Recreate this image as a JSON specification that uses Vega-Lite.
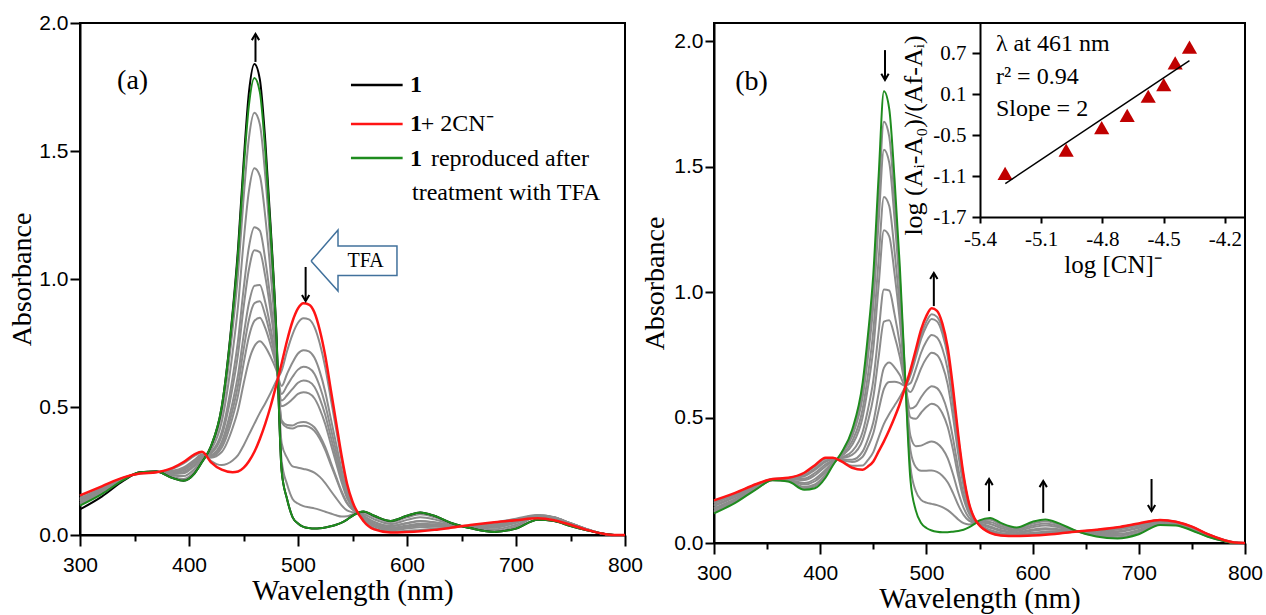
{
"$schema":"https://vega.github.io/schema/vega-lite/v6.json",
"background":"white",
"padding":{"left":7,"top":11,"right":0,"bottom":0},
"config":{
 "view":{"stroke":"black","strokeWidth":2},
 "axis":{"domainColor":"black","domainWidth":2,"tickColor":"black","tickWidth":2,"labelColor":"black","titleColor":"black","grid":false,"labelFont":"Liberation Sans","labelFontSize":21,"titleFont":"Liberation Serif","titleFontSize":26,"titleFontWeight":"normal","tickSize":10,"labelPadding":2,"labelFlush":false,"labelOverlap":false}
},
"datasets":{
"a":[
{"w":300,"k":0.1,"g":0.115,"r":0.155,"a1":0.119,"a2":0.125,"a3":0.131,"a4":0.133,"a5":0.137,"a6":0.139,"a7":0.141,"a8":0.144,"a9":0.152},
{"w":320,"k":0.15,"g":0.16,"r":0.19,"a1":0.163,"a2":0.167,"a3":0.172,"a4":0.174,"a5":0.177,"a6":0.178,"a7":0.18,"a8":0.182,"a9":0.188},
{"w":340,"k":0.212,"g":0.215,"r":0.225,"a1":0.216,"a2":0.217,"a3":0.219,"a4":0.22,"a5":0.221,"a6":0.221,"a7":0.222,"a8":0.222,"a9":0.224},
{"w":355,"k":0.245,"g":0.245,"r":0.24,"a1":0.245,"a2":0.244,"a3":0.243,"a4":0.243,"a5":0.242,"a6":0.242,"a7":0.242,"a8":0.241,"a9":0.24},
{"w":370,"k":0.248,"g":0.248,"r":0.245,"a1":0.248,"a2":0.247,"a3":0.247,"a4":0.247,"a5":0.246,"a6":0.246,"a7":0.246,"a8":0.246,"a9":0.245},
{"w":385,"k":0.222,"g":0.222,"r":0.262,"a1":0.226,"a2":0.232,"a3":0.238,"a4":0.24,"a5":0.244,"a6":0.246,"a7":0.248,"a8":0.251,"a9":0.259},
{"w":395,"k":0.212,"g":0.212,"r":0.285,"a1":0.219,"a2":0.23,"a3":0.241,"a4":0.246,"a5":0.253,"a6":0.256,"a7":0.26,"a8":0.264,"a9":0.28},
{"w":405,"k":0.24,"g":0.24,"r":0.315,"a1":0.247,"a2":0.258,"a3":0.27,"a4":0.275,"a5":0.282,"a6":0.285,"a7":0.289,"a8":0.294,"a9":0.309},
{"w":412,"k":0.285,"g":0.285,"r":0.325,"a1":0.289,"a2":0.295,"a3":0.301,"a4":0.303,"a5":0.307,"a6":0.309,"a7":0.311,"a8":0.314,"a9":0.322},
{"w":420,"k":0.345,"g":0.345,"r":0.285,"a1":0.339,"a2":0.331,"a3":0.321,"a4":0.317,"a5":0.312,"a6":0.309,"a7":0.306,"a8":0.302,"a9":0.29},
{"w":430,"k":0.5,"g":0.5,"r":0.255,"a1":0.477,"a2":0.441,"a3":0.402,"a4":0.387,"a5":0.364,"a6":0.352,"a7":0.341,"a8":0.324,"a9":0.273},
{"w":440,"k":0.87,"g":0.86,"r":0.245,"a1":0.803,"a2":0.712,"a3":0.615,"a4":0.577,"a5":0.518,"a6":0.489,"a7":0.46,"a8":0.418,"a9":0.291},
{"w":445,"k":1.12,"g":1.1,"r":0.248,"a1":1.021,"a2":0.895,"a3":0.76,"a4":0.707,"a5":0.626,"a6":0.586,"a7":0.546,"a8":0.488,"a9":0.312},
{"w":450,"k":1.45,"g":1.42,"r":0.262,"a1":1.312,"a2":1.141,"a3":0.958,"a4":0.886,"a5":0.776,"a6":0.722,"a7":0.667,"a8":0.589,"a9":0.349},
{"w":455,"k":1.73,"g":1.68,"r":0.288,"a1":1.551,"a2":1.345,"a3":1.125,"a4":1.038,"a5":0.906,"a6":0.841,"a7":0.775,"a8":0.681,"a9":0.392},
{"w":460,"k":1.84,"g":1.785,"r":0.325,"a1":1.649,"a2":1.433,"a3":1.202,"a4":1.112,"a5":0.973,"a6":0.905,"a7":0.836,"a8":0.737,"a9":0.435},
{"w":465,"k":1.78,"g":1.73,"r":0.375,"a1":1.604,"a2":1.403,"a3":1.189,"a4":1.105,"a5":0.977,"a6":0.913,"a7":0.849,"a8":0.757,"a9":0.477},
{"w":470,"k":1.54,"g":1.5,"r":0.435,"a1":1.401,"a2":1.243,"a3":1.075,"a4":1.009,"a5":0.908,"a6":0.858,"a7":0.808,"a8":0.735,"a9":0.515},
{"w":475,"k":1.2,"g":1.18,"r":0.505,"a1":1.117,"a2":1.017,"a3":0.911,"a4":0.869,"a5":0.805,"a6":0.773,"a7":0.741,"a8":0.695,"a9":0.556},
{"w":480,"k":0.81,"g":0.8,"r":0.585,"a1":0.78,"a2":0.748,"a3":0.714,"a4":0.701,"a5":0.68,"a6":0.67,"a7":0.66,"a8":0.646,"a9":0.601},
{"w":485,"k":0.25,"g":0.25,"r":0.67,"a1":0.289,"a2":0.359,"a3":0.44,"a4":0.447,"a5":0.503,"a6":0.525,"a7":0.551,"a8":0.582,"a9":0.642},
{"w":490,"k":0.14,"g":0.14,"r":0.76,"a1":0.198,"a2":0.301,"a3":0.42,"a4":0.43,"a5":0.513,"a6":0.546,"a7":0.584,"a8":0.63,"a9":0.719},
{"w":495,"k":0.07,"g":0.07,"r":0.835,"a1":0.141,"a2":0.268,"a3":0.416,"a4":0.428,"a5":0.531,"a6":0.571,"a7":0.618,"a8":0.674,"a9":0.784},
{"w":500,"k":0.045,"g":0.045,"r":0.885,"a1":0.123,"a2":0.263,"a3":0.425,"a4":0.438,"a5":0.551,"a6":0.595,"a7":0.646,"a8":0.709,"a9":0.829},
{"w":505,"k":0.032,"g":0.032,"r":0.905,"a1":0.113,"a2":0.258,"a3":0.427,"a4":0.441,"a5":0.558,"a6":0.604,"a7":0.657,"a8":0.722,"a9":0.847},
{"w":510,"k":0.027,"g":0.027,"r":0.9,"a1":0.108,"a2":0.253,"a3":0.422,"a4":0.436,"a5":0.553,"a6":0.599,"a7":0.652,"a8":0.717,"a9":0.842},
{"w":515,"k":0.025,"g":0.025,"r":0.87,"a1":0.104,"a2":0.244,"a3":0.407,"a4":0.421,"a5":0.534,"a6":0.579,"a7":0.63,"a8":0.693,"a9":0.813},
{"w":520,"k":0.026,"g":0.026,"r":0.8,"a1":0.098,"a2":0.227,"a3":0.376,"a4":0.388,"a5":0.492,"a6":0.533,"a7":0.58,"a8":0.638,"a9":0.748},
{"w":525,"k":0.029,"g":0.029,"r":0.7,"a1":0.091,"a2":0.203,"a3":0.332,"a4":0.343,"a5":0.433,"a6":0.469,"a7":0.509,"a8":0.559,"a9":0.655},
{"w":530,"k":0.034,"g":0.034,"r":0.57,"a1":0.084,"a2":0.173,"a3":0.276,"a4":0.285,"a5":0.357,"a6":0.385,"a7":0.418,"a8":0.457,"a9":0.534},
{"w":535,"k":0.04,"g":0.04,"r":0.44,"a1":0.077,"a2":0.144,"a3":0.221,"a4":0.227,"a5":0.281,"a6":0.302,"a7":0.326,"a8":0.356,"a9":0.413},
{"w":540,"k":0.048,"g":0.048,"r":0.31,"a1":0.072,"a2":0.116,"a3":0.166,"a4":0.171,"a5":0.206,"a6":0.22,"a7":0.236,"a8":0.255,"a9":0.292},
{"w":545,"k":0.06,"g":0.06,"r":0.2,"a1":0.073,"a2":0.096,"a3":0.123,"a4":0.126,"a5":0.144,"a6":0.152,"a7":0.16,"a8":0.171,"a9":0.191},
{"w":550,"k":0.075,"g":0.075,"r":0.13,"a1":0.08,"a2":0.089,"a3":0.1,"a4":0.101,"a5":0.108,"a6":0.111,"a7":0.114,"a8":0.119,"a9":0.126},
{"w":560,"k":0.092,"g":0.092,"r":0.055,"a1":0.089,"a2":0.082,"a3":0.075,"a4":0.075,"a5":0.07,"a6":0.068,"a7":0.066,"a8":0.063,"a9":0.058},
{"w":570,"k":0.075,"g":0.075,"r":0.022,"a1":0.07,"a2":0.061,"a3":0.051,"a4":0.05,"a5":0.043,"a6":0.04,"a7":0.037,"a8":0.033,"a9":0.026},
{"w":585,"k":0.055,"g":0.055,"r":0.01,"a1":0.051,"a2":0.043,"a3":0.035,"a4":0.034,"a5":0.028,"a6":0.026,"a7":0.023,"a8":0.019,"a9":0.013},
{"w":600,"k":0.075,"g":0.075,"r":0.012,"a1":0.069,"a2":0.059,"a3":0.047,"a4":0.046,"a5":0.037,"a6":0.034,"a7":0.03,"a8":0.025,"a9":0.016},
{"w":612,"k":0.088,"g":0.088,"r":0.015,"a1":0.081,"a2":0.069,"a3":0.055,"a4":0.054,"a5":0.044,"a6":0.04,"a7":0.036,"a8":0.03,"a9":0.02},
{"w":625,"k":0.075,"g":0.075,"r":0.02,"a1":0.07,"a2":0.061,"a3":0.05,"a4":0.049,"a5":0.042,"a6":0.039,"a7":0.036,"a8":0.032,"a9":0.024},
{"w":640,"k":0.048,"g":0.048,"r":0.028,"a1":0.046,"a2":0.043,"a3":0.039,"a4":0.039,"a5":0.036,"a6":0.035,"a7":0.034,"a8":0.032,"a9":0.029},
{"w":660,"k":0.025,"g":0.025,"r":0.04,"a1":0.026,"a2":0.029,"a3":0.032,"a4":0.032,"a5":0.034,"a6":0.035,"a7":0.036,"a8":0.037,"a9":0.039},
{"w":680,"k":0.012,"g":0.012,"r":0.05,"a1":0.016,"a2":0.022,"a3":0.029,"a4":0.03,"a5":0.035,"a6":0.037,"a7":0.039,"a8":0.042,"a9":0.048},
{"w":700,"k":0.025,"g":0.025,"r":0.058,"a1":0.033,"a2":0.04,"a3":0.048,"a4":0.05,"a5":0.054,"a6":0.056,"a7":0.058,"a8":0.06,"a9":0.064},
{"w":720,"k":0.06,"g":0.06,"r":0.065,"a1":0.072,"a2":0.073,"a3":0.074,"a4":0.075,"a5":0.075,"a6":0.076,"a7":0.076,"a8":0.077,"a9":0.078},
{"w":735,"k":0.055,"g":0.055,"r":0.058,"a1":0.066,"a2":0.066,"a3":0.067,"a4":0.067,"a5":0.068,"a6":0.068,"a7":0.068,"a8":0.069,"a9":0.069},
{"w":750,"k":0.035,"g":0.035,"r":0.04,"a1":0.043,"a2":0.044,"a3":0.044,"a4":0.045,"a5":0.045,"a6":0.045,"a7":0.046,"a8":0.046,"a9":0.046},
{"w":765,"k":0.018,"g":0.018,"r":0.02,"a1":0.021,"a2":0.021,"a3":0.022,"a4":0.022,"a5":0.022,"a6":0.022,"a7":0.023,"a8":0.023,"a9":0.023},
{"w":780,"k":0.005,"g":0.005,"r":0.005,"a1":0.005,"a2":0.005,"a3":0.005,"a4":0.005,"a5":0.005,"a6":0.005,"a7":0.005,"a8":0.005,"a9":0.005},
{"w":790,"k":0,"g":0,"r":0,"a1":0,"a2":0,"a3":0,"a4":0,"a5":0,"a6":0,"a7":0,"a8":0,"a9":0},
{"w":800,"k":0,"g":0,"r":0,"a1":0,"a2":0,"a3":0,"a4":0,"a5":0,"a6":0,"a7":0,"a8":0,"a9":0}
],
"b":[
{"w":300,"g":0.118,"r":0.17,"b1":0.123,"b2":0.127,"b3":0.134,"b4":0.139,"b5":0.147,"b6":0.152,"b7":0.159,"b8":0.162,"b9":0.167},
{"w":320,"g":0.16,"r":0.2,"b1":0.164,"b2":0.167,"b3":0.172,"b4":0.176,"b5":0.183,"b6":0.186,"b7":0.192,"b8":0.194,"b9":0.198},
{"w":340,"g":0.215,"r":0.235,"b1":0.217,"b2":0.218,"b3":0.221,"b4":0.223,"b5":0.226,"b6":0.228,"b7":0.231,"b8":0.232,"b9":0.234},
{"w":355,"g":0.25,"r":0.255,"b1":0.25,"b2":0.251,"b3":0.252,"b4":0.252,"b5":0.253,"b6":0.253,"b7":0.254,"b8":0.254,"b9":0.255},
{"w":370,"g":0.245,"r":0.26,"b1":0.246,"b2":0.248,"b3":0.25,"b4":0.251,"b5":0.254,"b6":0.255,"b7":0.257,"b8":0.258,"b9":0.259},
{"w":385,"g":0.212,"r":0.28,"b1":0.218,"b2":0.223,"b3":0.233,"b4":0.239,"b5":0.251,"b6":0.257,"b7":0.266,"b8":0.27,"b9":0.277},
{"w":395,"g":0.218,"r":0.31,"b1":0.226,"b2":0.233,"b3":0.246,"b4":0.255,"b5":0.27,"b6":0.279,"b7":0.291,"b8":0.296,"b9":0.305},
{"w":405,"g":0.26,"r":0.34,"b1":0.267,"b2":0.273,"b3":0.284,"b4":0.292,"b5":0.305,"b6":0.313,"b7":0.323,"b8":0.328,"b9":0.336},
{"w":412,"g":0.31,"r":0.34,"b1":0.313,"b2":0.315,"b3":0.319,"b4":0.322,"b5":0.327,"b6":0.33,"b7":0.334,"b8":0.336,"b9":0.339},
{"w":420,"g":0.36,"r":0.325,"b1":0.357,"b2":0.354,"b3":0.349,"b4":0.346,"b5":0.34,"b6":0.337,"b7":0.332,"b8":0.33,"b9":0.327},
{"w":430,"g":0.45,"r":0.3,"b1":0.437,"b2":0.425,"b3":0.405,"b4":0.39,"b5":0.365,"b6":0.351,"b7":0.332,"b8":0.323,"b9":0.308},
{"w":440,"g":0.64,"r":0.292,"b1":0.61,"b2":0.582,"b3":0.535,"b4":0.502,"b5":0.443,"b6":0.411,"b7":0.365,"b8":0.344,"b9":0.309},
{"w":445,"g":0.83,"r":0.305,"b1":0.784,"b2":0.742,"b3":0.671,"b4":0.622,"b5":0.533,"b6":0.485,"b7":0.415,"b8":0.384,"b9":0.331},
{"w":450,"g":1.07,"r":0.325,"b1":1.005,"b2":0.946,"b3":0.845,"b4":0.774,"b5":0.648,"b6":0.58,"b7":0.481,"b8":0.437,"b9":0.362},
{"w":455,"g":1.46,"r":0.365,"b1":1.365,"b2":1.277,"b3":1.129,"b4":1.025,"b5":0.84,"b6":0.74,"b7":0.595,"b8":0.529,"b9":0.42},
{"w":460,"g":1.8,"r":0.405,"b1":1.679,"b2":1.567,"b3":1.379,"b4":1.246,"b5":1.01,"b6":0.882,"b7":0.698,"b8":0.614,"b9":0.475},
{"w":465,"g":1.73,"r":0.45,"b1":1.619,"b2":1.516,"b3":1.343,"b4":1.222,"b5":1.006,"b6":0.888,"b7":0.719,"b8":0.642,"b9":0.514},
{"w":470,"g":1.45,"r":0.5,"b1":1.367,"b2":1.291,"b3":1.163,"b4":1.073,"b5":0.912,"b6":0.825,"b7":0.7,"b8":0.643,"b9":0.548},
{"w":475,"g":1.1,"r":0.555,"b1":1.053,"b2":1.009,"b3":0.935,"b4":0.884,"b5":0.792,"b6":0.741,"b7":0.669,"b8":0.637,"b9":0.582},
{"w":480,"g":0.66,"r":0.62,"b1":0.657,"b2":0.653,"b3":0.648,"b4":0.644,"b5":0.637,"b6":0.634,"b7":0.628,"b8":0.626,"b9":0.622},
{"w":485,"g":0.25,"r":0.69,"b1":0.303,"b2":0.369,"b3":0.426,"b4":0.501,"b5":0.536,"b6":0.602,"b7":0.637,"b8":0.669,"b9":0.678},
{"w":490,"g":0.13,"r":0.77,"b1":0.207,"b2":0.303,"b3":0.386,"b4":0.495,"b5":0.546,"b6":0.642,"b7":0.693,"b8":0.739,"b9":0.753},
{"w":495,"g":0.08,"r":0.85,"b1":0.172,"b2":0.288,"b3":0.388,"b4":0.519,"b5":0.581,"b6":0.696,"b7":0.758,"b8":0.813,"b9":0.829},
{"w":500,"g":0.06,"r":0.905,"b1":0.161,"b2":0.288,"b3":0.398,"b4":0.542,"b5":0.609,"b6":0.736,"b7":0.804,"b8":0.864,"b9":0.882},
{"w":505,"g":0.05,"r":0.935,"b1":0.156,"b2":0.289,"b3":0.404,"b4":0.555,"b5":0.625,"b6":0.758,"b7":0.829,"b8":0.893,"b9":0.911},
{"w":510,"g":0.045,"r":0.925,"b1":0.151,"b2":0.283,"b3":0.397,"b4":0.547,"b5":0.617,"b6":0.749,"b7":0.819,"b8":0.883,"b9":0.901},
{"w":515,"g":0.043,"r":0.875,"b1":0.143,"b2":0.268,"b3":0.376,"b4":0.517,"b5":0.584,"b6":0.709,"b7":0.775,"b8":0.835,"b9":0.853},
{"w":520,"g":0.043,"r":0.78,"b1":0.131,"b2":0.242,"b3":0.338,"b4":0.463,"b5":0.522,"b6":0.633,"b7":0.692,"b8":0.745,"b9":0.76},
{"w":525,"g":0.045,"r":0.62,"b1":0.114,"b2":0.2,"b3":0.275,"b4":0.373,"b5":0.419,"b6":0.505,"b7":0.551,"b8":0.592,"b9":0.605},
{"w":530,"g":0.048,"r":0.43,"b1":0.094,"b2":0.151,"b3":0.201,"b4":0.266,"b5":0.296,"b6":0.354,"b7":0.384,"b8":0.412,"b9":0.42},
{"w":535,"g":0.053,"r":0.27,"b1":0.079,"b2":0.112,"b3":0.14,"b4":0.177,"b5":0.194,"b6":0.227,"b7":0.244,"b8":0.26,"b9":0.264},
{"w":540,"g":0.062,"r":0.16,"b1":0.074,"b2":0.089,"b3":0.101,"b4":0.118,"b5":0.126,"b6":0.14,"b7":0.148,"b8":0.155,"b9":0.157},
{"w":545,"g":0.075,"r":0.1,"b1":0.078,"b2":0.082,"b3":0.085,"b4":0.089,"b5":0.091,"b6":0.095,"b7":0.097,"b8":0.099,"b9":0.099},
{"w":550,"g":0.09,"r":0.07,"b1":0.088,"b2":0.085,"b3":0.082,"b4":0.079,"b5":0.077,"b6":0.074,"b7":0.072,"b8":0.071,"b9":0.071},
{"w":560,"g":0.1,"r":0.04,"b1":0.093,"b2":0.084,"b3":0.076,"b4":0.066,"b5":0.061,"b6":0.052,"b7":0.047,"b8":0.043,"b9":0.042},
{"w":570,"g":0.08,"r":0.03,"b1":0.074,"b2":0.067,"b3":0.06,"b4":0.052,"b5":0.048,"b6":0.04,"b7":0.036,"b8":0.032,"b9":0.031},
{"w":585,"g":0.062,"r":0.028,"b1":0.058,"b2":0.053,"b3":0.048,"b4":0.043,"b5":0.04,"b6":0.035,"b7":0.032,"b8":0.03,"b9":0.029},
{"w":600,"g":0.085,"r":0.03,"b1":0.078,"b2":0.07,"b3":0.063,"b4":0.054,"b5":0.049,"b6":0.041,"b7":0.037,"b8":0.033,"b9":0.032},
{"w":612,"g":0.094,"r":0.033,"b1":0.087,"b2":0.078,"b3":0.07,"b4":0.059,"b5":0.054,"b6":0.045,"b7":0.04,"b8":0.036,"b9":0.035},
{"w":625,"g":0.078,"r":0.038,"b1":0.073,"b2":0.067,"b3":0.062,"b4":0.055,"b5":0.052,"b6":0.046,"b7":0.043,"b8":0.04,"b9":0.039},
{"w":640,"g":0.05,"r":0.045,"b1":0.049,"b2":0.049,"b3":0.048,"b4":0.047,"b5":0.047,"b6":0.046,"b7":0.046,"b8":0.045,"b9":0.045},
{"w":660,"g":0.026,"r":0.053,"b1":0.029,"b2":0.033,"b3":0.037,"b4":0.041,"b5":0.044,"b6":0.048,"b7":0.05,"b8":0.052,"b9":0.052},
{"w":680,"g":0.018,"r":0.063,"b1":0.023,"b2":0.03,"b3":0.036,"b4":0.044,"b5":0.047,"b6":0.054,"b7":0.058,"b8":0.061,"b9":0.062},
{"w":700,"g":0.035,"r":0.078,"b1":0.04,"b2":0.047,"b3":0.052,"b4":0.06,"b5":0.063,"b6":0.069,"b7":0.073,"b8":0.076,"b9":0.077},
{"w":720,"g":0.072,"r":0.092,"b1":0.074,"b2":0.077,"b3":0.08,"b4":0.083,"b5":0.085,"b6":0.088,"b7":0.09,"b8":0.091,"b9":0.092},
{"w":735,"g":0.07,"r":0.085,"b1":0.072,"b2":0.074,"b3":0.076,"b4":0.079,"b5":0.08,"b6":0.082,"b7":0.083,"b8":0.084,"b9":0.085},
{"w":750,"g":0.05,"r":0.065,"b1":0.052,"b2":0.054,"b3":0.056,"b4":0.059,"b5":0.06,"b6":0.062,"b7":0.063,"b8":0.064,"b9":0.065},
{"w":765,"g":0.025,"r":0.035,"b1":0.026,"b2":0.028,"b3":0.029,"b4":0.031,"b5":0.032,"b6":0.033,"b7":0.034,"b8":0.035,"b9":0.035},
{"w":780,"g":0.008,"r":0.012,"b1":0.008,"b2":0.009,"b3":0.01,"b4":0.01,"b5":0.011,"b6":0.011,"b7":0.012,"b8":0.012,"b9":0.012},
{"w":790,"g":0,"r":0.002,"b1":0,"b2":0.001,"b3":0.001,"b4":0.001,"b5":0.001,"b6":0.002,"b7":0.002,"b8":0.002,"b9":0.002},
{"w":800,"g":0,"r":0,"b1":0,"b2":0,"b3":0,"b4":0,"b5":0,"b6":0,"b7":0,"b8":0,"b9":0}
]
},
"spacing":89,
"bounds":"flush",
"hconcat":[
{
 "width":545,"height":512,
 "view":{"stroke":"black","strokeWidth":2},
 "layer":[
  {"data":{"name":"a"},"transform":[{"fold":["a1","a2","a3","a4","a5","a6","a7","a8","a9"]}],
   "mark":{"type":"line","color":"#8c8c8c","strokeWidth":2,"interpolate":"monotone"},
   "encoding":{
    "x":{"field":"w","type":"quantitative","scale":{"domain":[300,800],"nice":false,"zero":false},
     "axis":{"values":[300,350,400,450,500,550,600,650,700,750,800],"labelExpr":"datum.value % 100 === 0 ? datum.label : ''","format":"d","title":"Wavelength (nm)","titleFont":"Liberation Serif","titleFontSize":29,"titleFontWeight":"normal","tickSize":{"condition":{"test":"datum.value % 100 !== 0","value":6},"value":11},"labelPadding":8,"titlePadding":1}},
    "y":{"field":"value","type":"quantitative","scale":{"domain":[0,2],"nice":false},
     "axis":{"values":[0,0.5,1,1.5,2],"format":".1f","title":"Absorbance","titleFont":"Liberation Serif","titleFontSize":28,"titleFontWeight":"normal","titlePadding":2}},
    "detail":{"field":"key"}}},
  {"data":{"name":"a"},"mark":{"type":"line","color":"black","strokeWidth":2,"interpolate":"monotone"},
   "encoding":{"x":{"field":"w","type":"quantitative","scale":{"domain":[300,800],"nice":false,"zero":false}},
    "y":{"field":"k","type":"quantitative","scale":{"domain":[0,2],"nice":false}}}},
  {"data":{"name":"a"},"mark":{"type":"line","color":"#1e8c1e","strokeWidth":2,"interpolate":"monotone"},
   "encoding":{"x":{"field":"w","type":"quantitative","scale":{"domain":[300,800],"nice":false,"zero":false}},
    "y":{"field":"g","type":"quantitative","scale":{"domain":[0,2],"nice":false}}}},
  {"data":{"name":"a"},"mark":{"type":"line","color":"#ff1414","strokeWidth":2.5,"interpolate":"monotone"},
   "encoding":{"x":{"field":"w","type":"quantitative","scale":{"domain":[300,800],"nice":false,"zero":false}},
    "y":{"field":"r","type":"quantitative","scale":{"domain":[0,2],"nice":false}}}},
  {"data":{"values":[{"x":548.6,"x2":596,"y":1.758,"s":"k"},{"x":548.6,"x2":596,"y":1.605,"s":"r"},{"x":548.6,"x2":596,"y":1.473,"s":"g"}]},
   "mark":{"type":"rule","strokeWidth":2.5},
   "encoding":{"x":{"field":"x","type":"quantitative"},"x2":{"field":"x2"},"y":{"field":"y","type":"quantitative"},
    "color":{"field":"s","type":"nominal","scale":{"domain":["k","r","g"],"range":["black","#ff1414","#1e8c1e"]},"legend":null}}},
  {"data":{"values":[{"x":602.7,"y":1.758,"t":"1"},{"x":602.7,"y":1.605,"t":"1"},{"x":602.7,"y":1.468,"t":"1"}]},
   "mark":{"type":"text","font":"Liberation Serif","fontSize":24,"fontWeight":"bold","align":"left","baseline":"middle","color":"black"},
   "encoding":{"x":{"field":"x","type":"quantitative"},"y":{"field":"y","type":"quantitative"},"text":{"field":"t"}}},
  {"data":{"values":[{"x":612.5,"y":1.605,"t":"+ 2CN⁻"},{"x":622,"y":1.468,"t":"reproduced after"},{"x":604.6,"y":1.336,"t":"treatment with TFA"}]},
   "mark":{"type":"text","font":"Liberation Serif","fontSize":24,"align":"left","baseline":"middle","color":"black"},
   "encoding":{"x":{"field":"x","type":"quantitative"},"y":{"field":"y","type":"quantitative"},"text":{"field":"t"}}},
  {"data":{"values":[{"x":334,"y":1.773,"t":"(a)"}]},
   "mark":{"type":"text","font":"Liberation Serif","fontSize":28,"align":"left","baseline":"middle","color":"black"},
   "encoding":{"x":{"field":"x","type":"quantitative"},"y":{"field":"y","type":"quantitative"},"text":{"field":"t"}}},
  {"data":{"values":[{"x":512,"y":1.07,"o":0},{"x":536.7,"y":1.191,"o":1},{"x":536.7,"y":1.129,"o":2},{"x":590.8,"y":1.129,"o":3},{"x":590.8,"y":1.014,"o":4},{"x":536.7,"y":1.014,"o":5},{"x":536.7,"y":0.953,"o":6},{"x":512,"y":1.07,"o":7}]},
   "mark":{"type":"line","color":"#41719c","strokeWidth":1.5,"interpolate":"linear"},
   "encoding":{"x":{"field":"x","type":"quantitative"},"y":{"field":"y","type":"quantitative"},"order":{"field":"o","type":"quantitative"}}},
  {"data":{"values":[{"x":562,"y":1.07,"t":"TFA"}]},
   "mark":{"type":"text","font":"Liberation Serif","fontSize":20,"align":"center","baseline":"middle","color":"black"},
   "encoding":{"x":{"field":"x","type":"quantitative"},"y":{"field":"y","type":"quantitative"},"text":{"field":"t"}}},
  {"data":{"values":[{"x":461,"y":1.848,"y2":1.957},{"x":507,"y":1.047,"y2":0.914}]},
   "mark":{"type":"rule","color":"black","strokeWidth":2},
   "encoding":{"x":{"field":"x","type":"quantitative"},"y":{"field":"y","type":"quantitative"},"y2":{"field":"y2"}}},
  {"data":{"values":[{"x":461,"y":1.957}]},
   "mark":{"type":"point","shape":"M-0.6,1L0,0L0.6,1","filled":false,"color":"black","strokeWidth":2,"size":150,"opacity":1},
   "encoding":{"x":{"field":"x","type":"quantitative"},"y":{"field":"y","type":"quantitative"}}},
  {"data":{"values":[{"x":507,"y":0.914}]},
   "mark":{"type":"point","shape":"M-0.6,-1L0,0L0.6,-1","filled":false,"color":"black","strokeWidth":2,"size":150,"opacity":1},
   "encoding":{"x":{"field":"x","type":"quantitative"},"y":{"field":"y","type":"quantitative"}}}
 ]
},
{
 "width":531,"height":520,
 "view":{"stroke":"black","strokeWidth":2},
 "resolve":{"scale":{"x":"independent","y":"independent"},"axis":{"x":"independent","y":"independent"}},
 "layer":[
  {"layer":[
   {"data":{"name":"b"},"transform":[{"fold":["b1","b2","b3","b4","b5","b6","b7","b8","b9"]}],
    "mark":{"type":"line","color":"#8c8c8c","strokeWidth":2,"interpolate":"monotone"},
    "encoding":{
     "x":{"field":"w","type":"quantitative","scale":{"domain":[300,800],"nice":false,"zero":false},
      "axis":{"orient":"bottom","values":[300,350,400,450,500,550,600,650,700,750,800],"labelExpr":"datum.value % 100 === 0 ? datum.label : ''","format":"d","title":"Wavelength (nm)","titleFont":"Liberation Serif","titleFontSize":29,"titleFontWeight":"normal","tickSize":{"condition":{"test":"datum.value % 100 !== 0","value":6},"value":11},"labelPadding":8,"titlePadding":1}},
     "y":{"field":"value","type":"quantitative","scale":{"domain":[0,2.072],"nice":false},
      "axis":{"orient":"left","values":[0,0.5,1,1.5,2],"format":".1f","title":"Absorbance","titleFont":"Liberation Serif","titleFontSize":28,"titleFontWeight":"normal","titlePadding":4,"tickSize":9}},
     "detail":{"field":"key"}}},
   {"data":{"name":"b"},"mark":{"type":"line","color":"#1e8c1e","strokeWidth":2,"interpolate":"monotone"},
    "encoding":{"x":{"field":"w","type":"quantitative","scale":{"domain":[300,800],"nice":false,"zero":false}},
     "y":{"field":"g","type":"quantitative","scale":{"domain":[0,2.072],"nice":false}}}},
   {"data":{"name":"b"},"mark":{"type":"line","color":"#ff1414","strokeWidth":2.5,"interpolate":"monotone"},
    "encoding":{"x":{"field":"w","type":"quantitative","scale":{"domain":[300,800],"nice":false,"zero":false}},
     "y":{"field":"r","type":"quantitative","scale":{"domain":[0,2.072],"nice":false}}}},
   {"data":{"values":[{"x":320,"y":1.837,"t":"(b)"}]},
    "mark":{"type":"text","font":"Liberation Serif","fontSize":28,"align":"left","baseline":"middle","color":"black"},
    "encoding":{"x":{"field":"x","type":"quantitative"},"y":{"field":"y","type":"quantitative"},"text":{"field":"t"}}},
   {"data":{"values":[{"x":461,"y":1.964,"y2":1.845},{"x":507,"y":0.944,"y2":1.076},{"x":559,"y":0.127,"y2":0.255},{"x":610,"y":0.12,"y2":0.247},{"x":712,"y":0.255,"y2":0.127}]},
    "mark":{"type":"rule","color":"black","strokeWidth":2},
    "encoding":{"x":{"field":"x","type":"quantitative"},"y":{"field":"y","type":"quantitative"},"y2":{"field":"y2"}}},
   {"data":{"values":[{"x":507,"y":1.076},{"x":559,"y":0.255},{"x":610,"y":0.247}]},
    "mark":{"type":"point","shape":"M-0.6,1L0,0L0.6,1","filled":false,"color":"black","strokeWidth":2,"size":150,"opacity":1},
    "encoding":{"x":{"field":"x","type":"quantitative"},"y":{"field":"y","type":"quantitative"}}},
   {"data":{"values":[{"x":461,"y":1.845},{"x":712,"y":0.127}]},
    "mark":{"type":"point","shape":"M-0.6,-1L0,0L0.6,-1","filled":false,"color":"black","strokeWidth":2,"size":150,"opacity":1},
    "encoding":{"x":{"field":"x","type":"quantitative"},"y":{"field":"y","type":"quantitative"}}}
  ]},
  {"layer":[
   {"data":{"values":[{"x":-5.277,"y":-1.06},{"x":-4.978,"y":-0.72},{"x":-4.804,"y":-0.39},{"x":-4.679,"y":-0.21},{"x":-4.576,"y":0.07},{"x":-4.5,"y":0.24},{"x":-4.444,"y":0.56},{"x":-4.374,"y":0.79}]},
    "mark":{"type":"point","shape":"triangle-up","filled":true,"color":"#c00000","size":230,"opacity":1},
    "encoding":{
     "x":{"field":"x","type":"quantitative","scale":{"domain":[-5.4,-4.102],"range":[266,531],"nice":false,"zero":false},
      "axis":{"orient":"bottom","offset":-326,"values":[-5.4,-5.1,-4.8,-4.5,-4.2],"labelExpr":"(datum.value < 0 ? '-' : '') + format(abs(datum.value), '.1f')","labelFont":"Liberation Serif","labelFontSize":21,"title":"log [CN]⁻","titleFont":"Liberation Serif","titleFontSize":25,"titleFontWeight":"normal","tickSize":6,"labelPadding":5,"titlePadding":3}},
     "y":{"field":"y","type":"quantitative","scale":{"domain":[-1.7,1.144],"range":[194,0],"nice":false,"zero":false},
      "axis":{"orient":"left","offset":-266,"values":[-1.7,-1.1,-0.5,0.1,0.7],"labelExpr":"(datum.value < 0 ? '-' : '') + format(abs(datum.value), '.1f')","labelFont":"Liberation Serif","labelFontSize":21,"title":"log (Aᵢ-A₀)/(Af-Aᵢ)","titleFont":"Liberation Serif","titleFontSize":26,"titleFontWeight":"normal","titleY":112,"tickSize":8,"labelPadding":6,"titlePadding":6}}}},
   {"data":{"values":[{"x":-5.276,"y":-1.21},{"x":-4.374,"y":0.594}]},
    "mark":{"type":"line","color":"black","strokeWidth":1.5},
    "encoding":{"x":{"field":"x","type":"quantitative","scale":{"domain":[-5.4,-4.102],"range":[266,531],"nice":false,"zero":false}},"y":{"field":"y","type":"quantitative","scale":{"domain":[-1.7,1.144],"range":[194,0],"nice":false,"zero":false}}}},
   {"data":{"values":[{"x":-5.322,"y":0.836,"t":"λ at 461 nm"},{"x":-5.322,"y":0.352,"t":"r² = 0.94"},{"x":-5.322,"y":-0.117,"t":"Slope = 2"}]},
    "mark":{"type":"text","font":"Liberation Serif","fontSize":24,"align":"left","baseline":"middle","color":"black"},
    "encoding":{"x":{"field":"x","type":"quantitative","scale":{"domain":[-5.4,-4.102],"range":[266,531],"nice":false,"zero":false}},"y":{"field":"y","type":"quantitative","scale":{"domain":[-1.7,1.144],"range":[194,0],"nice":false,"zero":false}},"text":{"field":"t"}}}
  ]}
 ]
}
]
}
